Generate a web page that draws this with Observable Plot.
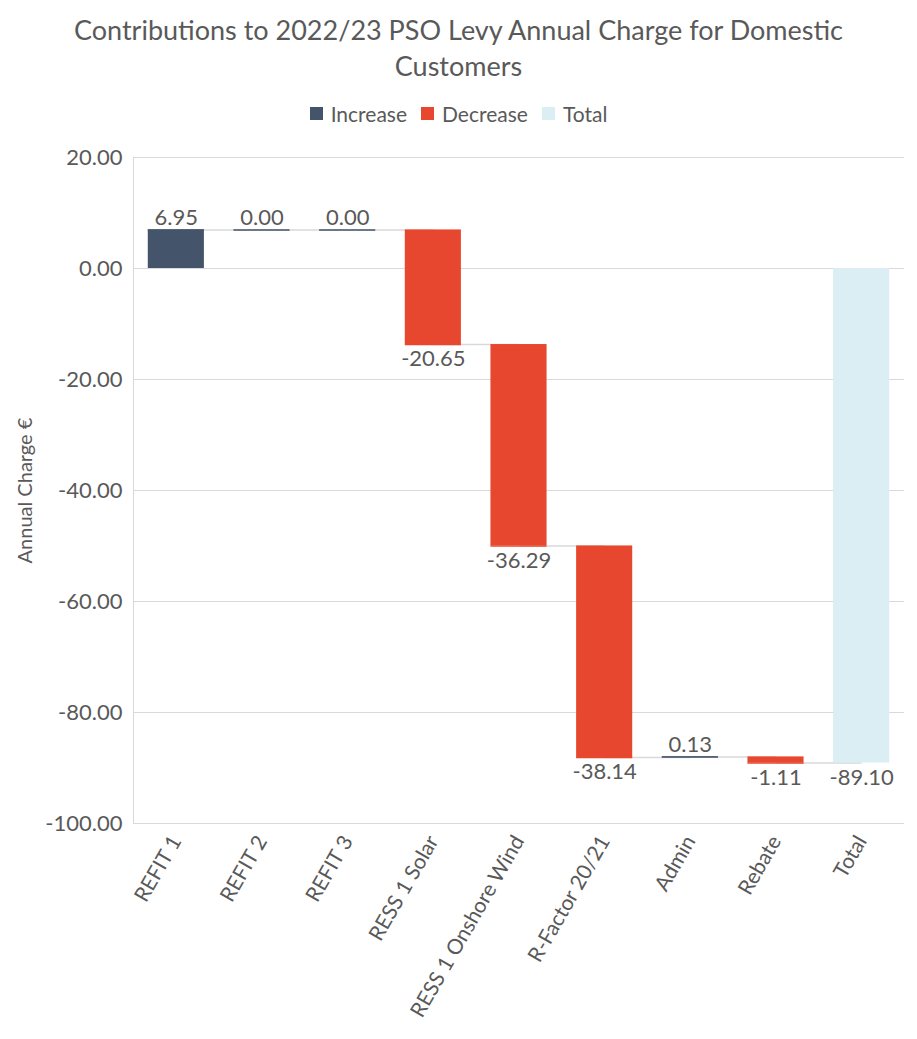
<!DOCTYPE html>
<html>
<head>
<meta charset="utf-8">
<script src="https://cdn.jsdelivr.net/npm/d3@7"></script>
<script src="https://cdn.jsdelivr.net/npm/@observablehq/plot@0.6"></script>
<style>
  body { margin: 0; background: #fff; font-family: Lato, "Open Sans", sans-serif; color: #595959; }
  #wrap { width: 917px; }
  h1 { margin: 0; padding-top: 12px; font-weight: normal; font-size: 27px; line-height: 36px; text-align: center; color: #595959; }
  #legend { display: flex; justify-content: center; align-items: center; gap: 14px; font-size: 21px; margin-top: 16px; height: 26px; }
  #legend span.sw { display: inline-block; width: 13px; height: 13px; margin-right: 8px; }
  #legend .item { display: flex; align-items: center; }
  #chart svg { display: block; }
</style>
</head>
<body>
<div id="wrap">
  <h1>Contributions to 2022/23 PSO Levy Annual Charge for Domestic<br>Customers</h1>
  <div id="legend"></div>
  <div id="chart"></div>
</div>
<script>
const categories = ["REFIT 1", "REFIT 2", "REFIT 3", "RESS 1 Solar", "RESS 1 Onshore Wind", "R-Factor 20/21", "Admin", "Rebate", "Total"];
const values = [6.95, 0.00, 0.00, -20.65, -36.29, -38.14, 0.13, -1.11, -89.10];
const kinds = ["Increase", "Increase", "Increase", "Decrease", "Decrease", "Decrease", "Increase", "Decrease", "Total"];
const yTicks = [20, 0, -20, -40, -60, -80, -100];
const legendNames = ["Increase", "Decrease", "Total"];
const legendColors = ["#44546A", "#E8472F", "#DAEEF3"];

// build waterfall rows
let run = 0;
const rows = categories.map((c, i) => {
  let start, end;
  if (kinds[i] === "Total") { start = 0; end = values[i]; }
  else { start = run; end = run + values[i]; run = end; }
  return { category: c, value: values[i], kind: kinds[i], start, end };
});
const links = rows.slice(0, -1).map((r, i) => ({ a: r.category, b: rows[i + 1].category, y: r.end }));

const leg = document.getElementById("legend");
legendNames.forEach((n, i) => {
  const d = document.createElement("div");
  d.className = "item";
  d.innerHTML = `<span class="sw" style="background:${legendColors[i]}"></span>${n}`;
  leg.appendChild(d);
});

const chartTop = document.getElementById("chart").getBoundingClientRect().top;
const H = Math.round(1039 - chartTop);
const plotTop = 157, plotBottom = 823;

const color = { domain: legendNames, range: legendColors };
const chart = Plot.plot({
  width: 917,
  height: H,
  marginTop: plotTop - chartTop,
  marginBottom: H - (plotBottom - chartTop),
  marginLeft: 133,
  marginRight: 13,
  style: { fontFamily: "Lato, 'Open Sans', sans-serif", color: "#595959", background: "#fff" },
  x: { domain: categories, paddingInner: 0.345, paddingOuter: 0.1725, round: false, label: null },
  y: { domain: [-100, 20], label: null },
  color,
  marks: [
    Plot.gridY(yTicks, { stroke: "#D9D9D9", strokeOpacity: 1, strokeWidth: 1 }),
    Plot.frame({ anchor: "left", stroke: "#D9D9D9" }),
    Plot.link(links, { x1: "a", x2: "b", y1: "y", y2: "y", stroke: "#D9D9D9", strokeWidth: 1.5 }),
    Plot.barY(rows, { x: "category", y1: "start", y2: "end", fill: "kind" }),
    Plot.tickY(rows.filter(r => r.kind !== "Total"), { x: "category", y: "end", stroke: "kind", strokeWidth: 1.5 }),
    Plot.text(rows.filter(r => r.value >= 0), {
      x: "category", y: "end",
      text: d => d.value.toFixed(2),
      lineAnchor: "bottom", dy: -5,
      fontSize: 22, fill: "#595959"
    }),
    Plot.text(rows.filter(r => r.value < 0), {
      x: "category", y: "end",
      text: d => d.value.toFixed(2),
      lineAnchor: "top", dy: 6,
      fontSize: 22, fill: "#595959"
    }),
    Plot.axisX({ tickSize: 0, tickRotate: -60, tickPadding: 14, fontSize: 21, label: null, fill: "#595959" }),
    Plot.axisY({ ticks: yTicks, tickSize: 0, tickPadding: 11, fontSize: 22, tickFormat: d => d.toFixed(2), label: null, fill: "#595959" }),
    Plot.text(["Annual Charge €"], { frameAnchor: "left", textAnchor: "middle", dx: -108, rotate: -90, fontSize: 20, fill: "#595959" })
  ]
});
document.getElementById("chart").appendChild(chart);
</script>
</body>
</html>
